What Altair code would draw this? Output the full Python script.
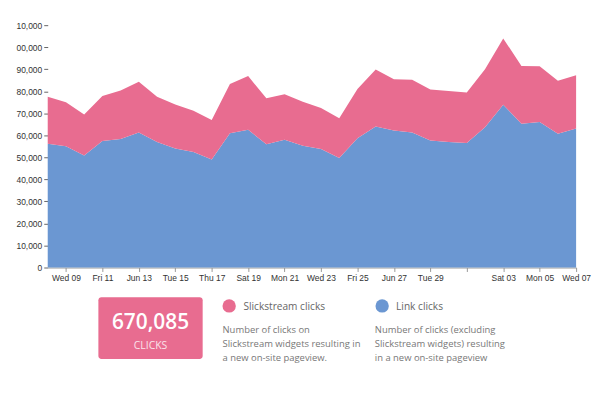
import altair as alt
import pandas as pd

# ---- data ----
dates = ["2021-06-08", "2021-06-09", "2021-06-10", "2021-06-11", "2021-06-12",
         "2021-06-13", "2021-06-14", "2021-06-15", "2021-06-16", "2021-06-17",
         "2021-06-18", "2021-06-19", "2021-06-20", "2021-06-21", "2021-06-22",
         "2021-06-23", "2021-06-24", "2021-06-25", "2021-06-26", "2021-06-27",
         "2021-06-28", "2021-06-29", "2021-06-30", "2021-07-01", "2021-07-02",
         "2021-07-03", "2021-07-04", "2021-07-05", "2021-07-06", "2021-07-07"]
link_clicks = [56200, 55000, 50800, 57400, 58300, 61300, 57000, 54000, 52400, 49000,
               61000, 62500, 55900, 58000, 55300, 53800, 49700, 58700, 64000, 62200,
               61300, 57600, 57000, 56500, 63700, 73900, 65200, 66100, 60700, 63100]
total_clicks = [77500, 75000, 69400, 77900, 80300, 84300, 77500, 74000, 71200, 67000,
                83300, 86900, 76800, 78600, 75200, 72400, 67800, 81000, 89900, 85400,
                85200, 80800, 80100, 79400, 90000, 104000, 91500, 91400, 84800, 87300]
slick_clicks = [t - l for t, l in zip(total_clicks, link_clicks)]

series_names = ["Slickstream clicks", "Link clicks"]
series_colors = ["#E86C90", "#6B97D2"]
y_ticks = list(range(0, 110001, 10000))
x_tick_days = [(6, d) for d in range(9, 31, 2)] + [(7, d) for d in range(1, 8, 2)]

total_text = "670,085"
total_caption = "CLICKS"
slick_desc = "Number of clicks on\nSlickstream widgets resulting in\na new on-site pageview."
link_desc = "Number of clicks (excluding\nSlickstream widgets) resulting\nin a new on-site pageview"

rows = []
for d, l, s in zip(dates, link_clicks, slick_clicks):
    rows.append({"date": d + "T00:00:00", "series": "Link clicks", "clicks": l, "rank": 0})
    rows.append({"date": d + "T00:00:00", "series": "Slickstream clicks", "clicks": s, "rank": 1})
df = pd.DataFrame(rows)

x_axis = alt.Axis(
    values=[alt.DateTime(year=2021, month=m, date=d) for m, d in x_tick_days],
    labelExpr="date(datum.value) == 1 ? '' : (day(datum.value) == 0 ? timeFormat(datum.value, '%b %d') : timeFormat(datum.value, '%a %d'))",
    title=None, grid=False, domain=True, domainColor="#999", tickColor="#999",
    tickSize=4, labelPadding=2, labelFontSize=8.5, labelFont="Liberation Sans",
    labelColor="#333", labelFlush=False, labelOverlap=False,
)
y_axis = alt.Axis(
    values=y_ticks,
    labelExpr="datum.value >= 100000 ? slice(format(datum.value, ','), 1) : format(datum.value, ',')",
    title=None, grid=False, domain=False, tickColor="#666", tickSize=4,
    labelPadding=2, labelFontSize=8.5, labelFont="Liberation Sans", labelColor="#333",
)

area = alt.Chart(df).mark_area(interpolate="linear").encode(
    x=alt.X("date:T", axis=x_axis),
    y=alt.Y("clicks:Q", stack="zero", axis=y_axis,
            scale=alt.Scale(domain=[0, 110000], nice=False)),
    color=alt.Color("series:N", legend=None,
                    scale=alt.Scale(domain=series_names, range=series_colors)),
    order=alt.Order("rank:Q"),
)

base = alt.Chart(pd.DataFrame({"k": [0]}))

box = base.mark_rect(color=series_colors[0], cornerRadius=3).encode(
    x=alt.value(51), x2=alt.value(156), y=alt.value(274), y2=alt.value(336))
big = base.mark_text(font="Open Sans", fontSize=21, fontWeight=600, color="white",
                     align="center", baseline="alphabetic").encode(
    x=alt.value(103.5), y=alt.value(306), text=alt.value(total_text))
cap = base.mark_text(font="Open Sans", fontSize=10.5, color="#fbe3ea",
                     align="center", baseline="alphabetic").encode(
    x=alt.value(103.5), y=alt.value(326.5), text=alt.value(total_caption))

dot1 = base.mark_circle(size=180, opacity=1, color=series_colors[0]).encode(
    x=alt.value(182.7), y=alt.value(282.7))
lab1 = base.mark_text(font="Open Sans", fontSize=10.2, color="#666",
                      align="left", baseline="alphabetic").encode(
    x=alt.value(197), y=alt.value(287), text=alt.value(series_names[0]))
desc1 = base.mark_text(font="Open Sans", fontSize=9.5, color="#777", align="left",
                       baseline="alphabetic", lineBreak="\n", lineHeight=14.2).encode(
    x=alt.value(176), y=alt.value(309.7), text=alt.value(slick_desc))

dot2 = base.mark_circle(size=180, opacity=1, color=series_colors[1]).encode(
    x=alt.value(336.7), y=alt.value(282.7))
lab2 = base.mark_text(font="Open Sans", fontSize=10.2, color="#666",
                      align="left", baseline="alphabetic").encode(
    x=alt.value(350.7), y=alt.value(287), text=alt.value(series_names[1]))
desc2 = base.mark_text(font="Open Sans", fontSize=9.5, color="#777", align="left",
                       baseline="alphabetic", lineBreak="\n", lineHeight=14.2).encode(
    x=alt.value(329.3), y=alt.value(309.7), text=alt.value(link_desc))

chart = alt.layer(area, box, big, cap, dot1, lab1, desc1, dot2, lab2, desc2).properties(
    width=532, height=244,
    autosize=alt.AutoSizeParams(type="none"),
    padding={"left": 40, "top": 16, "right": 16, "bottom": 117},
).configure_view(stroke=None)

chart.save("out.html", embed_options={"renderer": "svg", "actions": False})
